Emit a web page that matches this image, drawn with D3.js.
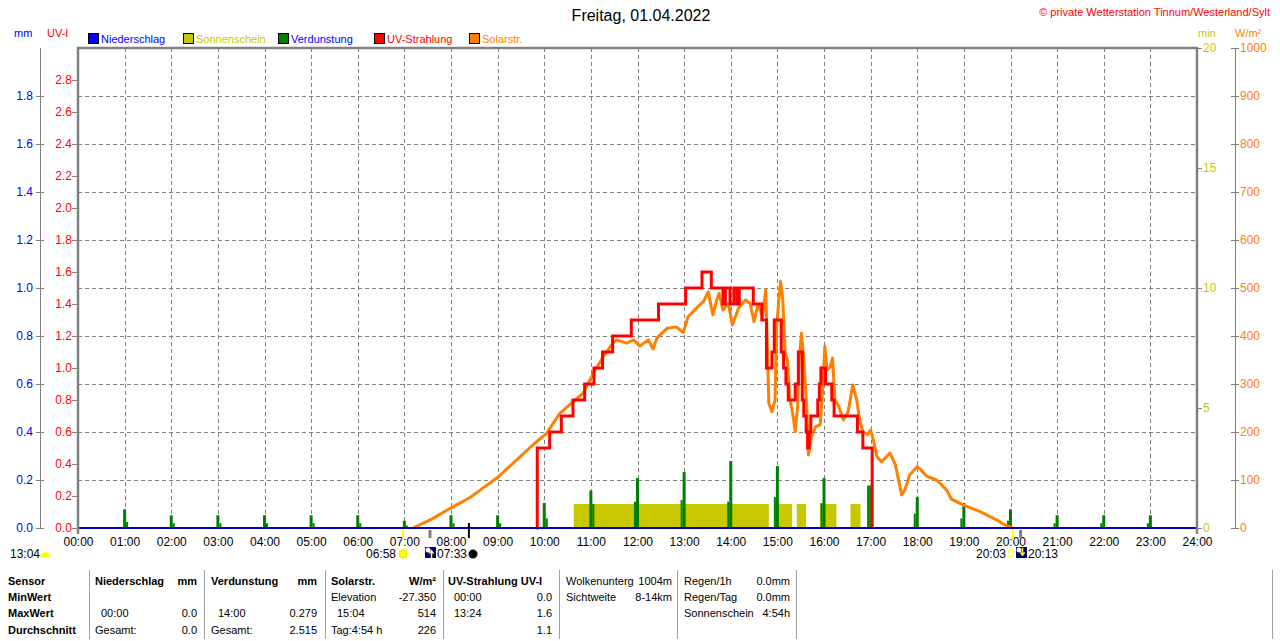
<!DOCTYPE html>
<html>
<head>
<meta charset="utf-8">
<script src="https://cdn.jsdelivr.net/npm/d3@7"></script>
<style>
body { margin: 0; background: #fff; }
svg { display: block; font-family: "Liberation Sans", Arial, sans-serif; }
</style>
</head>
<body>
<svg id="chart" width="1280" height="641"></svg>
<script>
// ---- data (Freitag, 01.04.2022) ----
const hourTicks = d3.range(0, 25);
const mmTicks = [0, 0.2, 0.4, 0.6, 0.8, 1.0, 1.2, 1.4, 1.6, 1.8];
const uvTicks = [0, 0.2, 0.4, 0.6, 0.8, 1.0, 1.2, 1.4, 1.6, 1.8, 2.0, 2.2, 2.4, 2.6, 2.8];
const minTicks = [0, 5, 10, 15, 20];
const solTicks = [0, 100, 200, 300, 400, 500, 600, 700, 800, 900, 1000];

// Verdunstung mm, one bar per full hour 01:00 .. 23:00 (plus the lower sample next to it)
const evapHours = [1, 2, 3, 4, 5, 6, 7, 8, 9, 10, 11, 12, 13, 14, 15, 16, 17, 18, 19, 20, 21, 22, 23];
const evapValues = [0.078, 0.053, 0.053, 0.053, 0.053, 0.053, 0.03, 0.053, 0.053, 0.104, 0.156, 0.208,
                    0.233, 0.279, 0.258, 0.208, 0.177, 0.129, 0.104, 0.078, 0.053, 0.053, 0.053];
const evapShoulder = [0.025, 0.02, 0.02, 0.02, 0.02, 0.02, 0.01, 0.02, 0.02, 0.04, 0.1, 0.11,
                      0.117, 0.11, 0.129, 0.104, 0.177, 0.06, 0.04, 0.03, 0.02, 0.02, 0.02];

// Sonnenschein periods (1 min per min)
const sunPeriods = [["10:38", "14:49"], ["14:56", "15:19"], ["15:25", "15:37"], ["15:55", "16:16"], ["16:34", "16:47"]];
const sunValue = 1;

// UV-Strahlung, step values
const uvSteps = [
  ["09:50", 0], ["09:51", 0.5], ["10:07", 0.6], ["10:22", 0.7], ["10:37", 0.8], ["10:52", 0.9],
  ["11:04", 1.0], ["11:15", 1.1], ["11:28", 1.2], ["11:52", 1.3], ["12:27", 1.4], ["13:02", 1.5],
  ["13:23", 1.6], ["13:35", 1.5], ["13:50", 1.4], ["13:53", 1.5], ["13:59", 1.4], ["14:04", 1.5],
  ["14:08", 1.4], ["14:11", 1.5], ["14:29", 1.4], ["14:40", 1.3], ["14:46", 1.0], ["14:53", 1.1],
  ["14:56", 1.3], ["15:05", 1.1], ["15:08", 1.0], ["15:11", 0.9], ["15:14", 0.8], ["15:23", 0.9],
  ["15:27", 1.1], ["15:32", 0.8], ["15:34", 0.7], ["15:37", 0.6], ["15:39", 0.5], ["15:41", 0.6],
  ["15:43", 0.7], ["15:52", 0.8], ["15:54", 0.9], ["15:56", 1.0], ["16:02", 0.9], ["16:10", 0.8],
  ["16:13", 0.7], ["16:43", 0.6], ["16:50", 0.5], ["17:02", 0]
];

// Solarstrahlung W/m²
const solar = [
  ["07:11", 0], ["07:37", 20], ["07:59", 41], ["08:25", 64], ["08:41", 83], ["08:59", 104],
  ["09:20", 135], ["09:46", 174], ["10:03", 197], ["10:20", 239], ["10:37", 263], ["10:50", 281],
  ["11:03", 322], ["11:16", 357], ["11:25", 378], ["11:33", 392], ["11:46", 385], ["11:55", 392],
  ["12:03", 379], ["12:14", 392], ["12:20", 373], ["12:25", 396], ["12:38", 416], ["12:50", 419],
  ["12:59", 407], ["13:05", 440], ["13:16", 458], ["13:25", 472], ["13:31", 492], ["13:37", 444],
  ["13:42", 475], ["13:45", 489], ["13:50", 454], ["13:57", 468], ["14:02", 423], ["14:10", 458],
  ["14:19", 475], ["14:25", 468], ["14:30", 430], ["14:35", 465], ["14:41", 440], ["14:45", 496],
  ["14:47", 385], ["14:49", 260], ["14:53", 242], ["14:57", 267], ["14:59", 419], ["15:04", 514],
  ["15:07", 475], ["15:10", 364], ["15:13", 350], ["15:16", 267], ["15:19", 246], ["15:23", 201],
  ["15:26", 253], ["15:28", 350], ["15:31", 406], ["15:34", 350], ["15:38", 246], ["15:40", 152],
  ["15:44", 190], ["15:49", 211], ["15:55", 215], ["15:58", 281], ["16:01", 378], ["16:04", 329],
  ["16:08", 336], ["16:11", 354], ["16:14", 267], ["16:19", 253], ["16:25", 225], ["16:31", 242],
  ["16:37", 298], ["16:42", 267], ["16:46", 225], ["16:50", 201], ["16:56", 194], ["17:00", 204],
  ["17:04", 180], ["17:08", 149], ["17:14", 138], ["17:25", 156], ["17:32", 131], ["17:40", 69],
  ["17:44", 79], ["17:50", 110], ["18:00", 128], ["18:05", 121], ["18:12", 108], ["18:25", 100],
  ["18:38", 79], ["18:44", 60], ["18:59", 48], ["19:21", 34], ["19:42", 17], ["19:51", 8],
  ["20:00", 2], ["20:03", 0]
];

// markers below the time axis
const axisMarks = [
  { t: "06:58", color: "#ffff00", w: 2, y1: 529, y2: 538 },
  { t: "07:33", color: "#808080", w: 3, y1: 530, y2: 538 },
  { t: "08:23", color: "#000000", w: 2, y1: 523, y2: 538 },
  { t: "20:03", color: "#ffff00", w: 2, y1: 529, y2: 540 },
  { t: "20:13", color: "#808080", w: 3, y1: 530, y2: 538 }
];

const legendItems = [
  { name: "Niederschlag", box: "#0000ff", text: "#0000ff", x: 88 },
  { name: "Sonnenschein", box: "#c8c800", text: "#c8c800", x: 183 },
  { name: "Verdunstung", box: "#008000", text: "#0000ff", x: 278 },
  { name: "UV-Strahlung", box: "#ff0000", text: "#ff0000", x: 374 },
  { name: "Solarstr.", box: "#ff8000", text: "#ff8000", x: 469 }
];

// table below the chart: [x, row, text, anchor, bold]
const tableText = [
  [8, 0, "Sensor", "start", 1], [8, 1, "MinWert", "start", 1], [8, 2, "MaxWert", "start", 1], [8, 3, "Durchschnitt", "start", 1],
  [95, 0, "Niederschlag", "start", 1], [197, 0, "mm", "end", 1], [101, 2, "00:00", "start", 0], [197, 2, "0.0", "end", 0],
  [95, 3, "Gesamt:", "start", 0], [197, 3, "0.0", "end", 0],
  [211, 0, "Verdunstung", "start", 1], [317, 0, "mm", "end", 1], [218, 2, "14:00", "start", 0], [317, 2, "0.279", "end", 0],
  [211, 3, "Gesamt:", "start", 0], [317, 3, "2.515", "end", 0],
  [331, 0, "Solarstr.", "start", 1], [436, 0, "W/m²", "end", 1], [331, 1, "Elevation", "start", 0], [436, 1, "-27.350", "end", 0],
  [337, 2, "15:04", "start", 0], [436, 2, "514", "end", 0], [331, 3, "Tag:4:54 h", "start", 0], [436, 3, "226", "end", 0],
  [448, 0, "UV-Strahlung UV-I", "start", 1], [454, 1, "00:00", "start", 0], [552, 1, "0.0", "end", 0],
  [454, 2, "13:24", "start", 0], [552, 2, "1.6", "end", 0], [552, 3, "1.1", "end", 0],
  [566, 0, "Wolkenunterg", "start", 0], [672, 0, "1004m", "end", 0], [566, 1, "Sichtweite", "start", 0], [672, 1, "8-14km", "end", 0],
  [684, 0, "Regen/1h", "start", 0], [790, 0, "0.0mm", "end", 0], [684, 1, "Regen/Tag", "start", 0], [790, 1, "0.0mm", "end", 0],
  [684, 2, "Sonnenschein", "start", 0], [790, 2, "4:54h", "end", 0]
];
const tableSeparators = [89, 204, 325, 443, 559, 677, 796, 1272];

// ---- drawing ----
const svg = d3.select("#chart");
const plotLeft = 78, plotRight = 1197, plotTop = 48, plotBottom = 528;
const gridColor = "#808080";

const tm = s => { const p = s.split(":").map(Number); return p[0] * 60 + p[1]; };

const x = d3.scaleLinear().domain([0, 1440]).range([plotLeft, plotRight]);
const yMM = d3.scaleLinear().domain([0, 2]).range([plotBottom, plotTop]);
const yUV = d3.scaleLinear().domain([0, 3]).range([plotBottom, plotTop]);
const yMin = d3.scaleLinear().domain([0, 20]).range([plotBottom, plotTop]);
const ySol = d3.scaleLinear().domain([0, 1000]).range([plotBottom, plotTop]);

// title + copyright
svg.append("text").attr("x", 641).attr("y", 21).attr("text-anchor", "middle")
  .attr("font-size", 16).attr("fill", "#000").text("Freitag, 01.04.2022");
svg.append("text").attr("x", 1270).attr("y", 16).attr("text-anchor", "end")
  .attr("font-size", 11).attr("fill", "#ff0000").text("© private Wetterstation Tinnum/Westerland/Sylt");

// unit labels
const units = [["mm", 14, "#0000ff"], ["UV-I", 47, "#ff0000"], ["min", 1198, "#c8c800"], ["W/m²", 1235, "#ff8000"]];
svg.append("g").selectAll("text").data(units).join("text")
  .attr("x", d => d[1]).attr("y", 37).attr("font-size", 11).attr("fill", d => d[2]).text(d => d[0]);

// legend
const lg = svg.append("g").selectAll("g").data(legendItems).join("g");
lg.append("rect").attr("x", d => d.x + 0.5).attr("y", 33.5).attr("width", 10).attr("height", 10)
  .attr("fill", d => d.box).attr("stroke", "#000");
lg.append("text").attr("x", d => d.x + 13).attr("y", 43).attr("font-size", 11)
  .attr("fill", d => d.text).text(d => d.name);

// grid
const grid = svg.append("g").attr("stroke", gridColor).attr("stroke-dasharray", "4,3");
grid.selectAll("line.v").data(hourTicks.slice(1, 24)).join("line").attr("class", "v")
  .attr("x1", d => Math.round(x(d * 60)) + 0.5).attr("x2", d => Math.round(x(d * 60)) + 0.5)
  .attr("y1", plotTop).attr("y2", plotBottom);
grid.selectAll("line.h").data(mmTicks.slice(1)).join("line").attr("class", "h")
  .attr("x1", plotLeft).attr("x2", plotRight)
  .attr("y1", d => Math.round(yMM(d)) + 0.5).attr("y2", d => Math.round(yMM(d)) + 0.5);

// Sonnenschein
svg.append("g").selectAll("rect").data(sunPeriods).join("rect")
  .attr("x", d => x(tm(d[0]))).attr("width", d => x(tm(d[1])) - x(tm(d[0])))
  .attr("y", yMin(sunValue)).attr("height", plotBottom - yMin(sunValue))
  .attr("fill", "#c8c800");

// Verdunstung
const evap = svg.append("g").attr("fill", "#008000");
evap.selectAll("rect.main").data(evapHours).join("rect").attr("class", "main")
  .attr("x", d => x(d * 60) - 1.5).attr("width", 3)
  .attr("y", (d, i) => yMM(evapValues[i])).attr("height", (d, i) => plotBottom - yMM(evapValues[i]));
evap.selectAll("rect.low").data(evapHours).join("rect").attr("class", "low")
  .attr("x", d => x(d * 60) + (d < 12 ? 1.5 : -3.5)).attr("width", 2)
  .attr("y", (d, i) => yMM(evapShoulder[i])).attr("height", (d, i) => plotBottom - yMM(evapShoulder[i]));

// Solarstrahlung
const solarLine = d3.line().x(d => x(tm(d[0]))).y(d => ySol(d[1]));
svg.append("path").datum(solar).attr("d", solarLine)
  .attr("fill", "none").attr("stroke", "#ff8000").attr("stroke-width", 3).attr("stroke-linejoin", "round");

// UV-Strahlung
const uvLine = d3.line().curve(d3.curveStepAfter).x(d => x(tm(d[0]))).y(d => yUV(d[1]));
svg.append("path").datum(uvSteps).attr("d", uvLine)
  .attr("fill", "none").attr("stroke", "#ff0000").attr("stroke-width", 3);

// Niederschlag (zero line)
svg.append("line").attr("x1", plotLeft).attr("x2", plotRight).attr("y1", plotBottom).attr("y2", plotBottom)
  .attr("stroke", "#0000c8").attr("stroke-width", 2);

// frame
svg.append("path").attr("d", `M${plotLeft},${plotBottom + 6}V${plotTop}H${plotRight}V${plotBottom + 6}`)
  .attr("fill", "none").attr("stroke", gridColor).attr("stroke-width", 2.5);

// axes
function styleAxis(g, color, size) {
  g.attr("font-family", "Liberation Sans, Arial, sans-serif").attr("font-size", size);
  g.selectAll(".tick text").attr("fill", color);
  g.selectAll(".tick line").attr("stroke", gridColor);
  g.select(".domain").attr("stroke", gridColor);
}

const mmAxis = svg.append("g").attr("transform", "translate(40,0)")
  .call(d3.axisLeft(yMM).tickValues(mmTicks).tickFormat(d3.format(".1f")).tickSize(4).tickSizeOuter(0).tickPadding(3));
mmAxis.select(".domain").attr("d", `M0.5,${plotBottom}V${plotTop}`);
mmAxis.selectAll(".tick line").attr("x1", 4);
styleAxis(mmAxis, "#0000ff", 12);

const uvAxis = svg.append("g").attr("transform", `translate(${plotLeft},0)`)
  .call(d3.axisLeft(yUV).tickValues(uvTicks).tickFormat(d3.format(".1f")).tickSize(6).tickPadding(0));
uvAxis.select(".domain").remove();
styleAxis(uvAxis, "#ff0000", 12);

const minAxis = svg.append("g").attr("transform", `translate(${plotRight},0)`)
  .call(d3.axisRight(yMin).tickValues(minTicks).tickFormat(d3.format("d")).tickSize(5).tickPadding(1));
minAxis.select(".domain").remove();
styleAxis(minAxis, "#c8c800", 12);

const solAxis = svg.append("g").attr("transform", "translate(1235,0)")
  .call(d3.axisRight(ySol).tickValues(solTicks).tickFormat(d3.format("d")).tickSize(4).tickSizeOuter(0).tickPadding(1));
solAxis.select(".domain").attr("d", `M0.5,${plotBottom}V${plotTop}`);
solAxis.selectAll(".tick line").attr("x1", -4);
styleAxis(solAxis, "#ff8000", 12);

const timeAxis = svg.append("g").attr("transform", `translate(0,${plotBottom})`)
  .call(d3.axisBottom(x).tickValues(hourTicks.map(h => h * 60))
    .tickFormat(d => d3.format("02d")(d / 60) + ":00").tickSize(0).tickPadding(9));
timeAxis.select(".domain").remove();
styleAxis(timeAxis, "#000", 12);

// sun / moon markers
svg.append("g").selectAll("line").data(axisMarks).join("line")
  .attr("x1", d => x(tm(d.t))).attr("x2", d => x(tm(d.t)))
  .attr("y1", d => d.y1).attr("y2", d => d.y2)
  .attr("stroke", d => d.color).attr("stroke-width", d => d.w);

const marks = svg.append("g").attr("font-size", 12).attr("fill", "#000");
marks.append("text").attr("x", 10).attr("y", 558).text("13:04");
marks.append("path").attr("d", d3.arc()({ innerRadius: 0, outerRadius: 5, startAngle: -Math.PI / 2, endAngle: Math.PI / 2 }))
  .attr("transform", "translate(45,557)").attr("fill", "#ffff00");
marks.append("text").attr("x", 396).attr("y", 558).attr("text-anchor", "end").text("06:58");
marks.append("text").attr("x", 437).attr("y", 558).text("07:33");
marks.append("text").attr("x", 1006).attr("y", 558).attr("text-anchor", "end").text("20:03");
marks.append("text").attr("x", 1028).attr("y", 558).text("20:13");

function sun(cx, cy, filled) {
  const g = marks.append("g").attr("transform", `translate(${cx},${cy})`);
  g.selectAll("line").data(d3.range(8)).join("line")
    .attr("x1", d => Math.cos(d * Math.PI / 4) * 4).attr("y1", d => Math.sin(d * Math.PI / 4) * 4)
    .attr("x2", d => Math.cos(d * Math.PI / 4) * 6).attr("y2", d => Math.sin(d * Math.PI / 4) * 6)
    .attr("stroke", "#ffff00").attr("stroke-width", 1.2);
  g.append("circle").attr("r", 3.8).attr("fill", filled ? "#ffff00" : "none")
    .attr("stroke", "#e8e800").attr("stroke-width", 1);
}
sun(403, 554, true);
marks.append("rect").attr("x", 1009).attr("y", 550).attr("width", 4).attr("height", 6)
  .attr("fill", "none").attr("stroke", "#ffff00");

function twilight(x0, up) {
  const g = marks.append("g").attr("transform", `translate(${x0},547)`);
  g.append("rect").attr("width", 11).attr("height", 11).attr("fill", "#000080");
  g.append("circle").attr("cx", 3).attr("cy", 3).attr("r", 2.5).attr("fill", "#fff");
  g.append("line").attr("x1", 6.5).attr("x2", 6.5).attr("y1", up ? 11 : 1).attr("y2", up ? 5 : 7)
    .attr("stroke", "#ffff00").attr("stroke-width", 1.5);
  g.append("path").attr("d", up ? "M3.5,6.5L6.5,2.5L9.5,6.5Z" : "M3.5,5.5L6.5,9.5L9.5,5.5Z").attr("fill", "#ffff00");
}
twilight(425, true);
twilight(1016, false);

marks.append("circle").attr("cx", 473).attr("cy", 554).attr("r", 4.5).attr("fill", "#000")
  .attr("stroke", "#a0a0a0").attr("stroke-dasharray", "1,1");

// table
svg.append("g").selectAll("line").data(tableSeparators).join("line")
  .attr("x1", d => d + 0.5).attr("x2", d => d + 0.5).attr("y1", 570).attr("y2", 639)
  .attr("stroke", "#a0a0a0");
const rowY = [585, 601, 617, 634];
svg.append("g").selectAll("text").data(tableText).join("text")
  .attr("x", d => d[0]).attr("y", d => rowY[d[1]]).attr("text-anchor", d => d[3])
  .attr("font-size", 11).attr("font-weight", d => d[4] ? "bold" : "normal")
  .attr("fill", "#000").text(d => d[2]);
</script>
</body>
</html>
